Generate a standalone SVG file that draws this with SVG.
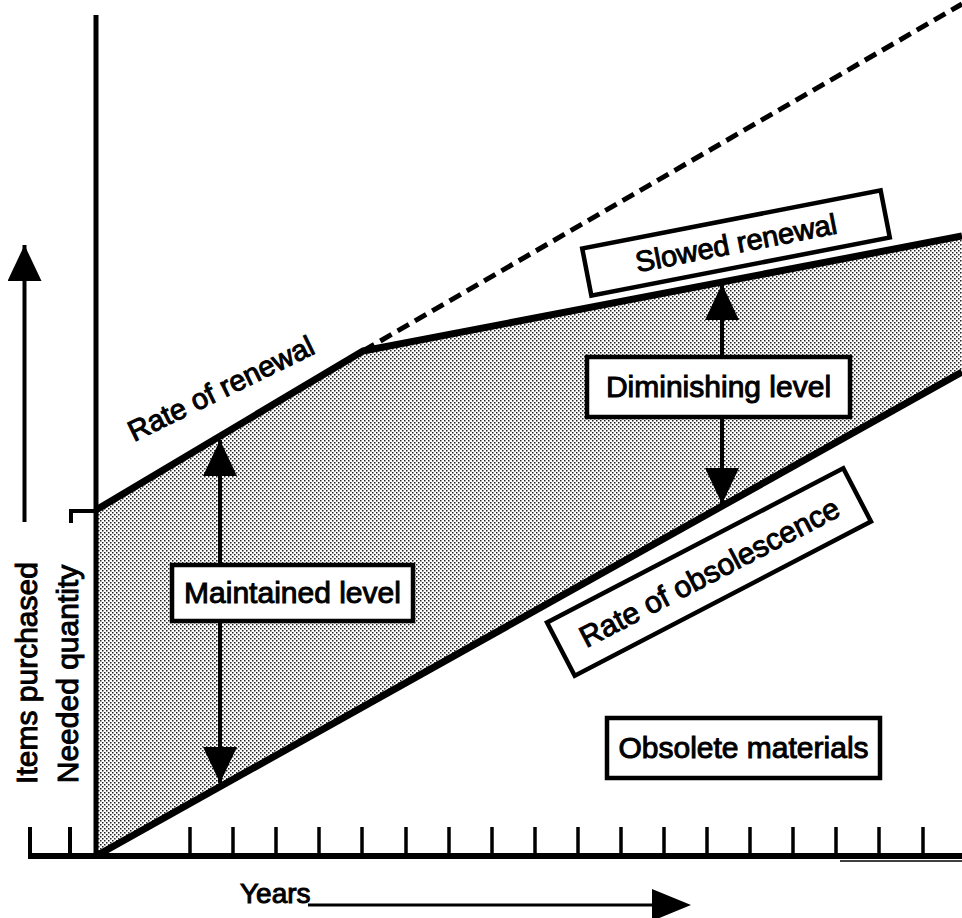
<svg xmlns="http://www.w3.org/2000/svg" width="962" height="918" viewBox="0 0 962 918">
<style>
.t{font-family:"Liberation Sans",Arial,sans-serif;font-size:30px;fill:#000;stroke:#000;stroke-width:1}
.box{fill:#fff;stroke:#000;stroke-width:4.5}
.ax{stroke:#000;fill:none;stroke-linecap:butt}
.arr{stroke:#000;stroke-width:4;fill:none}
</style>
<defs>
<pattern id="dots" width="4" height="4" patternUnits="userSpaceOnUse">
<rect width="4" height="4" fill="#fff"/>
<rect x="0" y="0" width="1.5" height="1.5" fill="#222"/>
<rect x="2" y="2" width="1.5" height="1.5" fill="#222"/>
</pattern>
<marker id="head" viewBox="0 0 36 34" refX="36" refY="17" markerWidth="36" markerHeight="34" markerUnits="userSpaceOnUse" orient="auto-start-reverse">
<path d="M0,0 L36,17 L0,34 Z" fill="#000"/>
</marker>
</defs>

<g id="shaded-area">
<polygon points="96,510 363,351 962,236 962,372 96,856" fill="url(#dots)"/>
</g>

<g id="axes">
<line class="ax" x1="96" y1="15" x2="96" y2="858" stroke-width="5"/>
<line class="ax" x1="28" y1="856" x2="962" y2="856" stroke-width="6"/>
<line class="ax" x1="840" y1="861" x2="962" y2="861" stroke-width="1.5"/>
<line class="ax" x1="30" y1="827" x2="30" y2="856" stroke-width="4"/>
<line class="ax" x1="70" y1="827" x2="70" y2="856" stroke-width="4"/>
<polyline class="ax" points="71,523 71,511 96,511" stroke-width="4"/>
<g stroke="#000" stroke-width="3.5">
<line x1="190" y1="827" x2="190" y2="856"/>
<line x1="233" y1="827" x2="233" y2="856"/>
<line x1="276" y1="827" x2="276" y2="856"/>
<line x1="319" y1="827" x2="319" y2="856"/>
<line x1="362" y1="827" x2="362" y2="856"/>
<line x1="406" y1="827" x2="406" y2="856"/>
<line x1="449" y1="827" x2="449" y2="856"/>
<line x1="492" y1="827" x2="492" y2="856"/>
<line x1="535" y1="827" x2="535" y2="856"/>
<line x1="578" y1="827" x2="578" y2="856"/>
<line x1="621" y1="827" x2="621" y2="856"/>
<line x1="664" y1="827" x2="664" y2="856"/>
<line x1="707" y1="827" x2="707" y2="856"/>
<line x1="750" y1="827" x2="750" y2="856"/>
<line x1="793" y1="827" x2="793" y2="856"/>
<line x1="836" y1="827" x2="836" y2="856"/>
<line x1="879" y1="827" x2="879" y2="856"/>
<line x1="923" y1="827" x2="923" y2="856"/>
</g>
</g>

<g id="curves">
<polyline points="96,510 363,351 962,236" fill="none" stroke="#000" stroke-width="7" stroke-linejoin="round"/>
<line x1="363" y1="351" x2="962" y2="4" stroke="#000" stroke-width="5" stroke-dasharray="13 7"/>
<line x1="96" y1="856" x2="962" y2="372" stroke="#000" stroke-width="7"/>
</g>

<g id="connectors">
<line class="arr" x1="24.5" y1="522" x2="24.5" y2="245" stroke-width="5" marker-end="url(#head)"/>
<line class="arr" x1="220" y1="440" x2="220" y2="783" marker-start="url(#head)" marker-end="url(#head)"/>
<line class="arr" x1="722" y1="284" x2="722" y2="504" marker-start="url(#head)" marker-end="url(#head)"/>
<line x1="308" y1="905" x2="655" y2="905" stroke="#000" stroke-width="3"/>
<polygon points="652,889 691,905 652,921" fill="#000"/>
</g>

<g id="y-labels">
<text class="t" transform="translate(37,673) rotate(-90)" text-anchor="middle">Items purchased</text>
<text class="t" transform="translate(78,674) rotate(-90)" text-anchor="middle">Needed quantity</text>
</g>

<g id="rate-of-renewal">
<text class="t" style="font-size:29px" transform="translate(134,442) rotate(-26)">Rate of renewal</text>
</g>

<g id="slowed-renewal">
<g transform="translate(736,243) rotate(-11)">
<rect class="box" x="-152" y="-24" width="304" height="48"/>
<text class="t" style="font-size:29px" x="0" y="10" text-anchor="middle">Slowed renewal</text>
</g>
</g>

<g id="diminishing-level">
<rect class="box" x="587" y="357" width="263" height="60"/>
<text class="t" x="718.5" y="397" text-anchor="middle">Diminishing level</text>
</g>

<g id="maintained-level">
<rect class="box" x="172" y="565" width="241" height="56"/>
<text class="t" x="292.5" y="603" text-anchor="middle">Maintained level</text>
</g>

<g id="rate-of-obsolescence">
<g transform="translate(709,572) rotate(-27.5)">
<rect class="box" x="-167" y="-30" width="334" height="60"/>
<text class="t" x="0" y="11" text-anchor="middle">Rate of obsolescence</text>
</g>
</g>

<g id="obsolete-materials">
<rect class="box" x="607" y="718" width="273" height="60"/>
<text class="t" x="743.5" y="758" text-anchor="middle">Obsolete materials</text>
</g>

<g id="years-label">
<text class="t" x="240" y="903" style="font-size:28px">Years</text>
</g>
</svg>
